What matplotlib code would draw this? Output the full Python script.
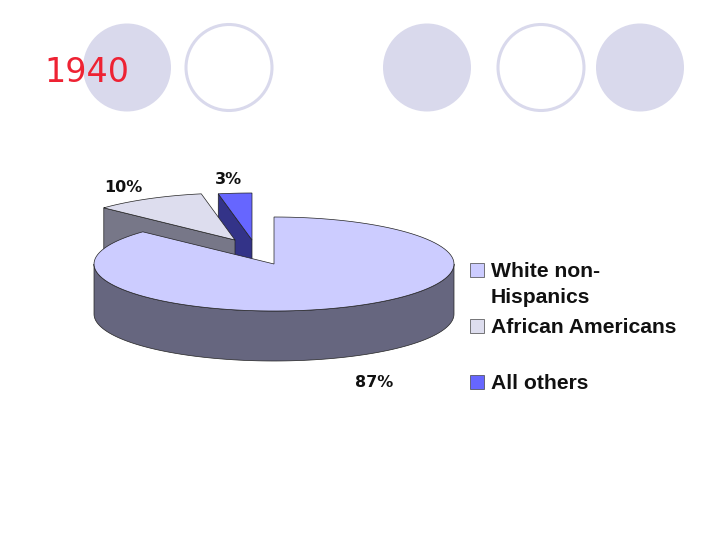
import numpy as np
import matplotlib
matplotlib.use("Agg")
import matplotlib.pyplot as plt
from matplotlib.patches import Circle, Rectangle

title = "1940"
categories = ["White non-\nHispanics", "African Americans", "All others"]
shares = [87, 10, 3]

top_colors = ["#CCCCFF", "#DDDDEE", "#6666FF"]
side_colors = ["#66667F", "#777788", "#333388"]
centers = [(274, 264), (235, 240), (252, 240)]  # explosion offsets included
label_pos = [(374, 387), (123, 192), (228, 184)]
legend_y = [263, 319, 375]
legend_text_y = [277, 333, 389]

RX, RY, DEPTH = 180, 47, 50


def rim(center, a0, a1):
    """Points on the ellipse, angles clockwise from north in degrees."""
    t = np.radians(np.linspace(a0, a1, 120))
    return center[0] + RX * np.sin(t), center[1] - RY * np.cos(t)


def draw_slice(center, a0, a1, top, side, z):
    x, y = rim(center, a0, a1)
    edge = dict(edgecolor="#222222", linewidth=0.5, zorder=z)

    # outer wall, only the front half of the rim shows
    f0, f1 = max(a0, 90), min(a1, 270)
    if f1 > f0:
        fx, fy = rim(center, f0, f1)
        ax.fill(np.r_[fx, fx[::-1]], np.r_[fy, fy[::-1] + DEPTH], facecolor=side, **edge)

    # cut face running from the start of the arc to the apex
    if a0 > 270:
        ax.fill([x[0], center[0], center[0], x[0]],
                [y[0], center[1], center[1] + DEPTH, y[0] + DEPTH], facecolor=side, **edge)

    ax.fill(np.r_[center[0], x], np.r_[center[1], y], facecolor=top, **edge)


fig = plt.figure(figsize=(7.2, 5.4), dpi=100)
ax = fig.add_axes([0, 0, 1, 1])
ax.set_xlim(0, 720)
ax.set_ylim(540, 0)
ax.axis("off")

# slide decoration
for cx, filled in [(127, True), (229, False), (427, True), (541, False), (640, True)]:
    if filled:
        ax.add_patch(Circle((cx, 67.5), 44, facecolor="#D9D9EC", edgecolor="none", zorder=1))
    else:
        ax.add_patch(Circle((cx, 67.5), 43, facecolor="white", edgecolor="#D9D9EC", linewidth=2.2, zorder=1))

ax.text(44, 82, title, color="#EE2233", fontsize=24, family="DejaVu Sans", zorder=2)

# pie, drawn back to front
angles = np.r_[0, np.cumsum(shares)] / sum(shares) * 360
for i, z in [(2, 3), (1, 4), (0, 5)]:
    draw_slice(centers[i], angles[i], angles[i + 1], top_colors[i], side_colors[i], z)

for share, (lx, ly) in zip(shares, label_pos):
    ax.text(lx, ly, f"{share}%", ha="center", va="baseline", fontsize=11.5,
            fontweight="bold", family="DejaVu Sans", color="#111111", zorder=6)

# legend
for cat, color, sy, ty in zip(categories, top_colors, legend_y, legend_text_y):
    ax.add_patch(Rectangle((470, sy), 14, 14, facecolor=color, edgecolor="#444444", linewidth=0.5, zorder=6))
    lines = cat.split("\n")
    for j, line in enumerate(lines):
        ax.text(491, ty + j * 26, line, va="baseline", fontsize=15.2,
                fontweight="bold", family="Liberation Sans", color="#111111", zorder=6)

fig.savefig("out.png", dpi=100, facecolor="white")
